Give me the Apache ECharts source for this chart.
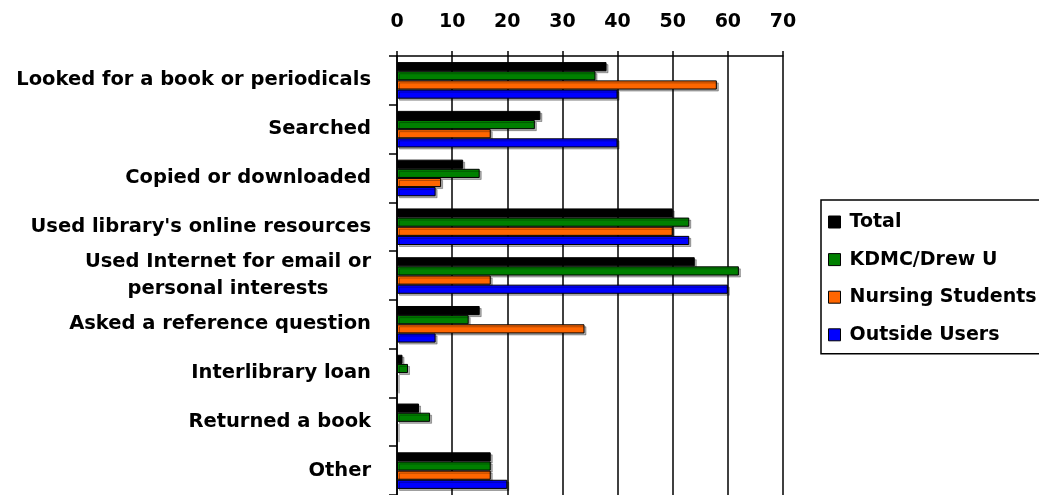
<!DOCTYPE html>
<html>
<head>
<meta charset="utf-8">
<script src="https://cdn.jsdelivr.net/npm/echarts@6/dist/echarts.min.js"></script>
<style>
html,body{margin:0;padding:0;background:#fff;}
#chart{width:1039px;height:495px;}
</style>
</head>
<body>
<div id="chart"></div>
<script>
var categories = [
  "Looked for a book or periodicals",
  "Searched",
  "Copied or downloaded",
  "Used library's online resources",
  "Used Internet for email or\npersonal interests",
  "Asked a reference question",
  "Interlibrary loan",
  "Returned a book",
  "Other"
];
var seriesNames = ["Total", "KDMC/Drew U", "Nursing Students", "Outside Users"];
var total    = [38, 26, 12, 50, 54, 15, 1, 4, 17];
var kdmc     = [36, 25, 15, 53, 62, 13, 2, 6, 17];
var nursing  = [58, 17, 8, 50, 17, 34, 0, 0, 17];
var outside  = [40, 40, 7, 53, 60, 7, 0, 0, 20];
var xTicks = [0, 10, 20, 30, 40, 50, 60, 70];

var colors = ["#000000", "#008000", "#FF6600", "#0000FF"];
var values = [total, kdmc, nursing, outside];
var FONT = "DejaVu Sans";

var chart = echarts.init(document.getElementById('chart'), null, {renderer: 'canvas'});

var series = seriesNames.map(function (name, i) {
  return {
    name: name,
    type: 'bar',
    data: values[i],
    barGap: '0%',
    barCategoryGap: '25%',
    itemStyle: {
      color: colors[i],
      borderColor: '#000',
      borderWidth: 1,
      shadowColor: 'rgba(0,0,0,0.3)',
      shadowOffsetX: 2,
      shadowOffsetY: 2,
      shadowBlur: 0
    },
    emphasis: {disabled: true},
    animation: false
  };
});

chart.setOption({
  backgroundColor: '#fff',
  animation: false,
  grid: {left: 397, top: 56, right: 256, bottom: -3, containLabel: false},
  xAxis: {
    type: 'value',
    position: 'top',
    min: xTicks[0],
    max: xTicks[xTicks.length - 1],
    interval: xTicks[1] - xTicks[0],
    axisLine: {show: true, lineStyle: {color: '#000', width: 1.5}},
    axisTick: {show: true, length: 5, lineStyle: {color: '#000', width: 1.5}},
    axisLabel: {
      margin: 24,
      color: '#000',
      fontFamily: FONT,
      fontWeight: 'bold',
      fontSize: 19
    },
    splitLine: {show: true, lineStyle: {color: '#000', width: 1.5}}
  },
  yAxis: {
    type: 'category',
    inverse: true,
    data: categories,
    axisLine: {show: true, lineStyle: {color: '#000', width: 1.5}},
    axisTick: {show: true, length: 8, lineStyle: {color: '#000', width: 1.5}},
    axisLabel: {
      margin: 26,
      color: '#000',
      fontFamily: FONT,
      fontWeight: 'bold',
      fontSize: 19.5,
      align: 'right',
      formatter: function (v) {
        var lines = v.split('\n');
        if (lines.length === 1) return v;
        return lines.map(function (l) { return '{c|' + l + '}'; }).join('\n');
      },
      rich: {
        c: {
          align: 'center',
          fontFamily: FONT,
          fontWeight: 'bold',
          fontSize: 19.5,
          color: '#000',
          lineHeight: 27
        }
      }
    },
    splitLine: {show: false}
  },
  legend: {
    orient: 'vertical',
    left: 821,
    top: 200,
    data: seriesNames,
    itemWidth: 12,
    itemHeight: 12,
    itemGap: 17.6,
    icon: 'rect',
    borderColor: '#000',
    borderWidth: 1.5,
    padding: [12, 40, 9, 7],
    itemStyle: {shadowBlur: 0, shadowOffsetX: 0, shadowOffsetY: 0, shadowColor: 'transparent', borderColor: '#000', borderWidth: 1},
    textStyle: {
      color: '#000',
      fontFamily: FONT,
      fontWeight: 'bold',
      fontSize: 19,
      lineHeight: 20,
      padding: [0, 0, 0, 4]
    },
    selectedMode: false
  },
  series: series
});
</script>
</body>
</html>
